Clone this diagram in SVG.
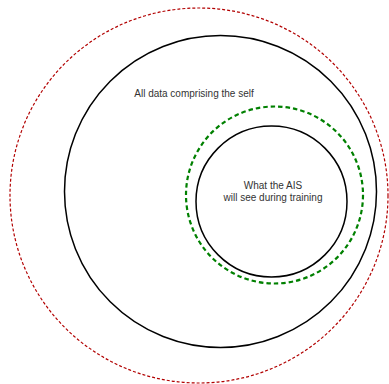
<svg xmlns="http://www.w3.org/2000/svg" width="389" height="384" viewBox="0 0 389 384">
<style>
.solid{fill:none;stroke:#000;stroke-width:1.5}
.red{fill:none;stroke:#b20000;stroke-width:1.2;stroke-dasharray:3 2}
.green{fill:none;stroke:#008000;stroke-width:2.2;stroke-dasharray:4.5 3}
text{font-family:"Liberation Sans",Arial,sans-serif;font-size:10px;fill:#333;text-anchor:middle}
</style>
<rect width="389" height="384" fill="#fff"/>
<g id="outer-red"><ellipse class="red" cx="199" cy="195.5" rx="189" ry="187.5"/></g>
<g id="self"><ellipse class="solid" cx="220.5" cy="191.5" rx="156" ry="156"/><text x="194" y="97">All data comprising the self</text></g>
<g id="green"><ellipse class="green" cx="274.5" cy="195" rx="88.5" ry="88.5"/></g>
<g id="training"><ellipse class="solid" cx="271.5" cy="201.5" rx="75.5" ry="75.5"/><text x="273" y="189">What the AIS</text><text x="273" y="201">will see during training</text></g>
<g id="connectors"/>
</svg>
